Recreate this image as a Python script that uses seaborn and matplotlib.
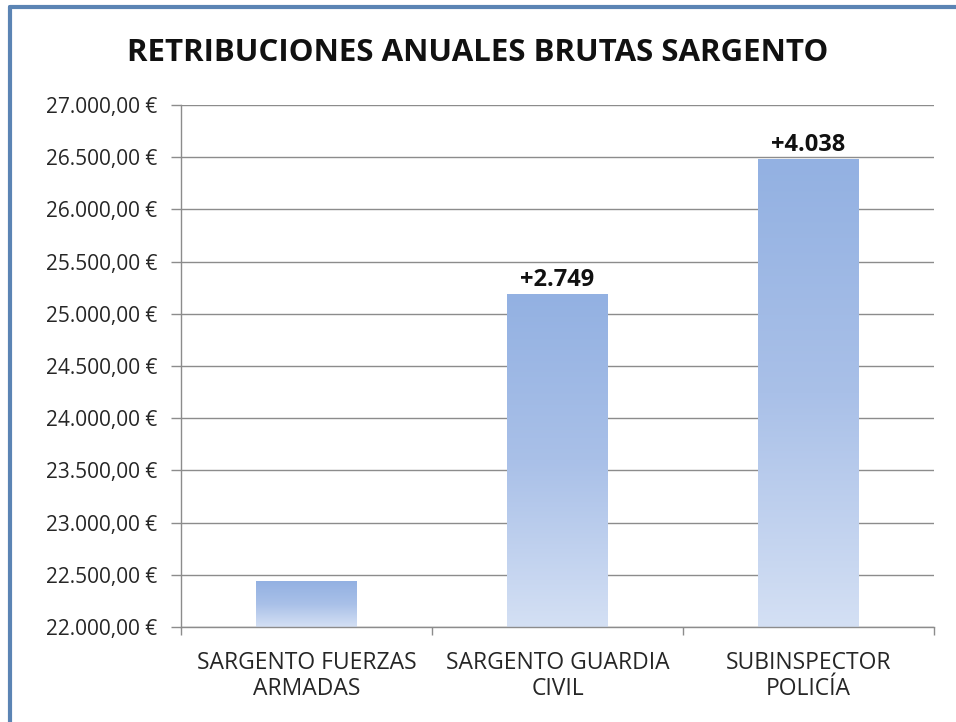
import numpy as np
import pandas as pd
import matplotlib
matplotlib.use("Agg")
import matplotlib.pyplot as plt
from matplotlib.colors import LinearSegmentedColormap
from matplotlib.ticker import FuncFormatter, FixedLocator
from matplotlib.lines import Line2D
import seaborn as sns

# Datos
categorias = ["SARGENTO FUERZAS\nARMADAS", "SARGENTO GUARDIA\nCIVIL", "SUBINSPECTOR\nPOLICÍA"]
retribuciones = [22437, 25186, 26475]
diferencias = ["", "+2.749", "+4.038"]

sns.set_theme(style="white")
plt.rcParams['font.family'] = ['Open Sans', 'DejaVu Sans']

df = pd.DataFrame({"categoria": categorias, "retribucion": retribuciones})

fig = plt.figure(figsize=(9.56, 7.22), dpi=100)
ax = fig.add_axes([181 / 956, 1 - 627 / 722, (934 - 181) / 956, (627 - 105) / 722])

sns.barplot(data=df, x="categoria", y="retribucion", width=0.4, color="#95b3e3", ax=ax)

ymin, ymax = 22000, 27000

# Degradado en las barras (estilo Excel)
cmap = LinearSegmentedColormap.from_list("grad", ["#d4e0f4", "#a9c0e8", "#93b1e2"])
grad = np.linspace(0, 1, 256).reshape(-1, 1)
for p in ax.patches:
    x, w, h = p.get_x(), p.get_width(), p.get_height()
    ax.imshow(grad, extent=[x, x + w, ymin, h], origin="lower", aspect="auto",
              cmap=cmap, zorder=2)
    p.set_visible(False)

ax.set_xlim(-0.5, 2.5)
ax.set_ylim(ymin, ymax)

def fmt_euro(v, pos):
    s = f"{v:,.2f}".replace(",", "X").replace(".", ",").replace("X", ".")
    return s + " €"

ax.yaxis.set_major_locator(FixedLocator(np.arange(ymin, ymax + 1, 500)))
ax.yaxis.set_major_formatter(FuncFormatter(fmt_euro))
ax.grid(axis="y", color="#8c8c8c", linewidth=1.0)
ax.set_axisbelow(True)

for s in ["top", "right"]:
    ax.spines[s].set_visible(False)
for s in ["left", "bottom"]:
    ax.spines[s].set_color("#8c8c8c")
    ax.spines[s].set_linewidth(1.0)

ax.tick_params(axis="y", which="major", length=7, color="#8c8c8c", width=1,
               labelsize=15, labelcolor="#262626", left=True, pad=10)
ax.tick_params(axis="x", which="major", length=0, labelsize=16.5,
               labelcolor="#262626", pad=17)
ax.xaxis.set_minor_locator(FixedLocator([-0.5, 0.5, 1.5, 2.5]))
ax.tick_params(axis="x", which="minor", length=6, color="#8c8c8c", width=1, bottom=True)
for lbl in ax.get_xticklabels():
    lbl.set_linespacing(1.15)

ax.set_xlabel("")
ax.set_ylabel("")

# Etiquetas de diferencia
for i, (v, t) in enumerate(zip(retribuciones, diferencias)):
    if t:
        ax.text(i, v + 25, t, ha="center", va="bottom", fontsize=17,
                fontweight="bold", color="#111111")

fig.text(0.5, 1 - 53 / 722, "RETRIBUCIONES ANUALES BRUTAS SARGENTO",
         ha="center", va="center", fontsize=22.5, fontweight="bold",
         color="#111111")

# Borde azul de la imagen
fig.add_artist(Line2D([10 / 956, 10 / 956], [0, 1 - 7 / 722], transform=fig.transFigure,
                      color="#5b84b4", linewidth=3))
fig.add_artist(Line2D([10 / 956, 1], [1 - 7 / 722, 1 - 7 / 722], transform=fig.transFigure,
                      color="#5b84b4", linewidth=3))

fig.savefig("out.png", dpi=100)
